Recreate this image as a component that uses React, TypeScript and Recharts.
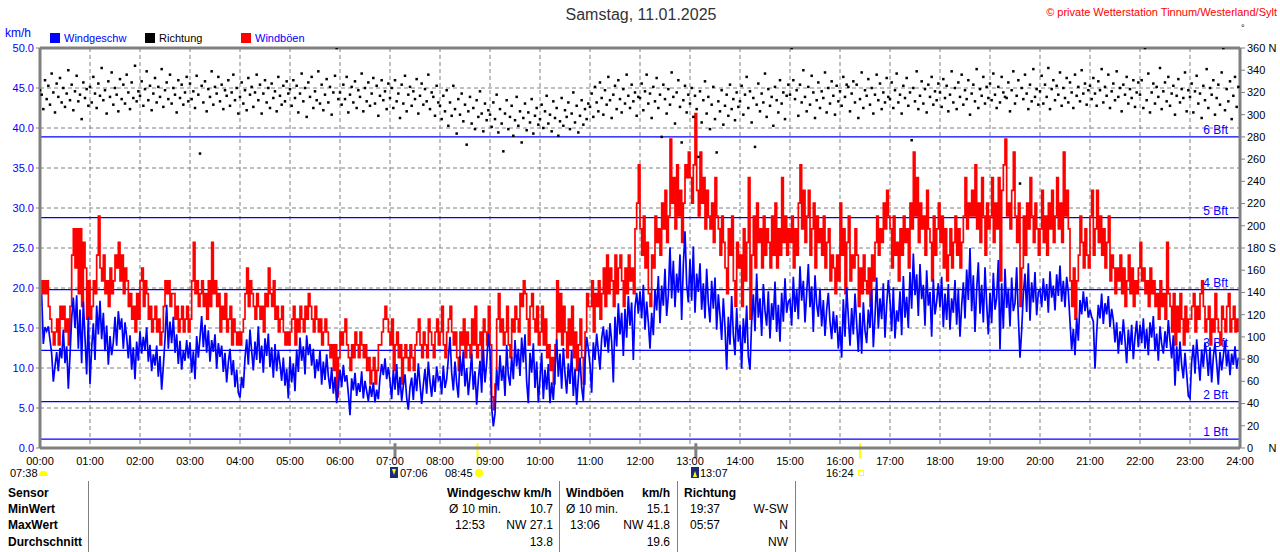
import React from 'react';
import { ComposedChart, Line, Scatter, XAxis, YAxis, CartesianGrid, ReferenceLine } from 'recharts';

// ---- sampling: one value every 2 minutes, 30 per hour ----
const STEP_MIN = 2;

// Wind speed (km/h), hour by hour
const speedKmh: number[] = [
  // 00
  17.5, 19.2, 13.0, 15.1, 14.6, 15.2, 13.5, 11.8, 8.3, 10.2, 12.0, 9.6, 12.5, 11.2, 14.8, 10.6, 12.7, 7.4, 11.6, 16.2, 18.8, 15.0, 19.1, 12.4, 17.3, 10.6, 18.3, 13.8, 9.2, 16.4,
  // 01
  8.0, 12.5, 15.6, 11.0, 17.8, 14.2, 18.4, 13.6, 16.9, 12.1, 15.3, 10.4, 14.0, 11.6, 13.2, 16.4, 12.8, 17.1, 14.8, 16.2, 12.4, 15.7, 13.9, 11.2, 14.1, 9.8, 12.6, 8.6, 13.3, 10.9,
  // 02
  14.6, 11.8, 13.9, 12.2, 15.1, 10.8, 12.9, 9.6, 11.7, 10.3, 12.8, 8.9, 11.5, 7.3, 10.2, 13.6, 17.9, 12.4, 15.8, 13.1, 16.4, 11.9, 14.2, 10.5, 13.4, 9.8, 12.1, 10.9, 13.5, 11.2,
  // 03
  13.2, 9.4, 12.1, 8.6, 14.0, 11.3, 13.8, 16.5, 12.6, 15.4, 11.9, 14.7, 10.8, 13.5, 12.0, 14.2, 9.9, 13.1, 11.4, 12.8, 9.5, 11.9, 8.2, 10.7, 12.4, 9.1, 11.0, 7.6, 9.8, 6.9,
  // 04
  6.3, 8.9, 7.5, 11.2, 13.6, 10.4, 14.8, 12.1, 9.7, 13.3, 11.0, 15.2, 10.6, 12.8, 9.4, 13.7, 11.5, 14.3, 10.1, 12.6, 8.8, 13.0, 9.6, 12.2, 10.5, 8.4, 11.3, 7.8, 9.9, 6.2,
  // 05
  11.4, 8.2, 10.6, 7.1, 12.3, 9.5, 13.8, 10.9, 12.7, 9.2, 14.1, 11.6, 13.0, 10.3, 12.4, 8.7, 11.1, 9.6, 12.2, 7.9, 10.8, 8.5, 11.7, 9.0, 7.4, 10.1, 6.8, 8.9, 5.6, 7.7,
  // 06
  9.8, 7.6, 10.4, 8.3, 9.1, 6.8, 4.1, 8.7, 7.2, 9.4, 6.5, 8.1, 7.0, 9.6, 6.2, 8.4, 7.1, 5.9, 7.8, 6.4, 8.2, 5.7, 7.3, 6.1, 8.8, 10.5, 9.1, 11.2, 8.6, 10.1,
  // 07
  8.4, 6.1, 9.7, 7.3, 10.5, 6.6, 8.9, 5.9, 7.8, 9.2, 6.3, 4.8, 7.6, 8.8, 6.0, 9.4, 7.1, 10.6, 8.0, 5.5, 7.9, 9.9, 6.8, 10.8, 8.3, 6.4, 9.1, 7.0, 10.2, 8.5,
  // 08
  9.0, 6.7, 10.3, 7.5, 8.6, 11.2, 13.9, 9.4, 7.2, 10.8, 8.1, 6.3, 11.5, 9.0, 12.1, 7.7, 10.0, 6.6, 8.9, 11.8, 7.3, 9.6, 5.4, 8.5, 10.9, 6.9, 12.3, 8.2, 10.6, 14.3,
  // 09
  12.0, 5.1, 2.7, 4.3, 9.8, 7.2, 11.6, 8.4, 10.3, 6.5, 12.9, 9.1, 7.8, 11.4, 8.6, 13.5, 10.2, 12.4, 9.0, 13.8, 10.7, 14.2, 8.3, 5.6, 11.9, 9.4, 13.1, 7.5, 10.8, 5.7,
  // 10
  8.6, 11.9, 6.1, 9.8, 7.3, 10.5, 5.6, 8.2, 6.0, 9.7, 13.6, 8.9, 11.8, 7.4, 12.5, 9.3, 6.8, 10.6, 8.0, 12.2, 6.5, 9.9, 5.4, 8.7, 11.3, 7.6, 5.9, 10.8, 13.9, 12.4,
  // 11
  10.4, 6.9, 13.2, 11.0, 14.3, 12.1, 9.8, 13.7, 15.2, 12.6, 14.8, 11.9, 15.6, 13.3, 8.2, 16.4, 12.7, 18.1, 14.2, 16.9, 11.5, 17.4, 13.8, 19.0, 15.3, 18.2, 11.0, 17.6, 19.4, 16.8,
  // 12
  19.6, 16.2, 20.4, 14.8, 18.3, 15.7, 12.4, 16.9, 14.1, 19.8, 17.2, 21.5, 15.6, 20.3, 17.8, 22.4, 16.5, 19.1, 25.1, 18.7, 23.4, 17.6, 21.8, 19.4, 24.2, 16.0, 22.9, 27.1, 20.5, 18.2,
  // 13
  23.6, 18.4, 25.2, 16.9, 21.8, 19.5, 23.1, 17.3, 20.6, 16.2, 22.4, 18.1, 15.7, 20.9, 17.4, 21.3, 14.8, 19.2, 16.6, 13.5, 18.7, 15.1, 9.8, 16.4, 12.9, 19.0, 14.2, 11.6, 17.5, 13.3,
  // 14
  15.4, 9.9, 16.2, 13.1, 17.8, 11.4, 9.8, 15.9, 19.2, 14.6, 21.8, 16.3, 18.7, 14.0, 20.5, 17.2, 15.3, 19.6, 13.7, 18.1, 16.0, 20.8, 14.5, 17.9, 13.3, 19.4, 15.8, 21.2, 16.9, 18.3,
  // 15
  18.6, 15.3, 21.4, 17.0, 19.8, 16.1, 22.7, 18.4, 20.9, 15.7, 19.3, 23.0, 17.6, 20.2, 14.5, 21.6, 18.0, 16.4, 19.9, 15.2, 18.5, 14.0, 17.3, 19.4, 15.8, 13.6, 17.1, 14.4, 16.6, 12.4,
  // 16
  15.2, 11.3, 18.6, 13.9, 20.1, 16.4, 12.8, 17.5, 14.2, 19.3, 15.6, 12.0, 16.9, 11.8, 18.2, 14.7, 13.1, 17.3, 15.0, 19.8, 12.6, 16.4, 21.3, 14.9, 18.7, 16.1, 20.6, 13.8, 17.9, 21.0,
  // 17
  18.4, 14.6, 20.1, 13.7, 17.2, 15.8, 19.6, 14.1, 21.5, 16.3, 18.9, 15.0, 22.0, 17.4, 24.3, 19.1, 21.7, 16.5, 23.0, 18.6, 20.4, 15.3, 22.2, 17.8, 19.5, 13.9, 21.1, 16.7, 18.3, 20.6,
  // 18
  17.6, 21.4, 15.1, 19.3, 16.0, 20.5, 14.8, 18.7, 16.9, 21.0, 15.4, 19.9, 13.9, 17.8, 20.7, 16.2, 22.3, 18.5, 25.0, 17.1, 21.6, 14.5, 19.8, 23.2, 16.8, 20.4, 15.7, 22.6, 18.0, 14.2,
  // 19
  19.4, 15.6, 21.9, 17.3, 18.8, 23.5, 12.3, 20.6, 14.9, 22.4, 17.5, 19.9, 15.2, 21.3, 17.1, 18.1, 22.6, 16.4, 11.3, 14.7, 19.3, 21.8, 17.0, 23.1, 15.9, 20.7, 18.2, 22.0, 16.6, 19.5,
  // 20
  19.8, 17.6, 21.2, 18.4, 20.5, 16.9, 22.1, 18.8, 20.3, 17.2, 21.7, 19.0, 22.8, 18.3, 20.9, 17.6, 21.4, 19.5, 15.8, 12.3, 14.9, 11.6, 16.2, 13.4, 18.5, 16.7, 19.6, 17.1, 18.9, 16.3,
  // 21
  17.3, 16.4, 15.8, 9.9, 14.4, 17.9, 16.2, 19.3, 15.5, 18.1, 16.7, 19.0, 15.1, 17.4, 16.0, 13.2, 15.7, 11.8, 14.6, 12.9, 16.1, 13.5, 10.6, 14.8, 12.2, 15.4, 11.1, 13.9, 15.9, 12.6,
  // 22
  15.4, 13.1, 16.2, 12.4, 14.9, 11.6, 15.7, 13.8, 16.5, 12.1, 14.3, 10.9, 15.2, 13.0, 11.8, 14.6, 12.5, 16.0, 13.4, 11.2, 14.1, 7.8, 12.7, 9.6, 13.3, 10.4, 8.7, 11.9, 9.3, 6.5,
  // 23
  6.2, 10.8, 12.9, 9.3, 13.6, 11.0, 8.4, 12.3, 10.1, 13.2, 11.7, 9.0, 12.6, 8.2, 11.4, 13.1, 10.6, 7.9, 12.0, 9.7, 11.5, 13.4, 10.2, 12.2, 9.1, 11.8, 10.4, 12.7, 9.9, 11.3,
];

// Gusts (km/h)
const gustKmh: number[] = [
  // 00
  20.9, 19.3, 20.9, 19.3, 20.9, 17.7, 16.1, 14.5, 12.9, 14.5, 16.1, 12.9, 17.7, 16.1, 17.7, 14.5, 16.1, 12.9, 17.7, 24.1, 27.4, 22.5, 27.4, 19.3, 27.4, 17.7, 25.7, 22.5, 16.1, 20.9,
  // 01
  16.1, 17.7, 20.9, 19.3, 24.1, 29.0, 22.5, 20.9, 24.1, 19.3, 20.9, 17.7, 22.5, 19.3, 20.9, 24.1, 22.5, 25.7, 20.9, 24.1, 19.3, 22.5, 20.9, 17.7, 19.3, 16.1, 17.7, 14.5, 19.3, 16.1,
  // 02
  20.9, 22.5, 17.7, 20.9, 19.3, 16.1, 17.7, 14.5, 16.1, 17.7, 14.5, 16.1, 12.9, 14.5, 17.7, 20.9, 19.3, 20.9, 17.7, 19.3, 19.3, 16.1, 17.7, 14.5, 16.1, 17.7, 14.5, 16.1, 17.7, 14.5,
  // 03
  16.1, 20.9, 25.7, 19.3, 20.9, 17.7, 19.3, 20.9, 17.7, 19.3, 16.1, 20.9, 17.7, 25.7, 19.3, 20.9, 17.7, 19.3, 14.5, 17.7, 16.1, 19.3, 14.5, 16.1, 17.7, 12.9, 16.1, 14.5, 12.9, 14.5,
  // 04
  12.9, 14.5, 16.1, 19.3, 22.5, 17.7, 20.9, 19.3, 17.7, 16.1, 19.3, 17.7, 16.1, 17.7, 14.5, 19.3, 17.7, 22.5, 19.3, 17.7, 20.9, 16.1, 17.7, 14.5, 16.1, 17.7, 14.5, 12.9, 14.5, 12.9,
  // 05
  14.5, 16.1, 17.7, 12.9, 16.1, 14.5, 17.7, 16.1, 14.5, 17.7, 16.1, 19.3, 17.7, 16.1, 14.5, 17.7, 16.1, 14.5, 16.1, 12.9, 14.5, 16.1, 14.5, 12.9, 11.3, 12.9, 9.7, 12.9, 6.4, 11.3,
  // 06
  14.5, 12.9, 14.5, 16.1, 12.9, 11.3, 9.7, 12.9, 11.3, 14.5, 12.9, 11.3, 14.5, 12.9, 11.3, 12.9, 9.7, 11.3, 8.0, 9.7, 11.3, 8.0, 9.7, 12.9, 12.9, 14.5, 16.1, 17.7, 16.1, 14.5,
  // 07
  12.9, 16.1, 9.7, 12.9, 14.5, 11.3, 12.9, 8.0, 11.3, 12.9, 11.3, 9.7, 12.9, 11.3, 9.7, 12.9, 14.5, 16.1, 12.9, 11.3, 14.5, 12.9, 11.3, 16.1, 14.5, 12.9, 11.3, 14.5, 16.1, 12.9,
  // 08
  14.5, 17.7, 12.9, 11.3, 14.5, 16.1, 17.7, 14.5, 12.9, 14.5, 11.3, 9.7, 14.5, 12.9, 16.1, 11.3, 14.5, 12.9, 11.3, 16.1, 12.9, 17.7, 11.3, 12.9, 14.5, 9.7, 16.1, 14.5, 12.9, 17.7,
  // 09
  12.9, 6.4, 4.8, 8.0, 16.1, 19.3, 14.5, 16.1, 12.9, 14.5, 17.7, 12.9, 11.3, 16.1, 14.5, 17.7, 16.1, 14.5, 19.3, 17.7, 20.9, 19.3, 16.1, 12.9, 17.7, 19.3, 16.1, 14.5, 17.7, 12.9,
  // 10
  14.5, 17.7, 12.9, 16.1, 11.3, 12.9, 9.7, 11.3, 8.0, 12.9, 20.9, 14.5, 19.3, 12.9, 17.7, 14.5, 11.3, 16.1, 12.9, 17.7, 11.3, 14.5, 9.7, 12.9, 16.1, 11.3, 8.0, 14.5, 19.3, 17.7,
  // 11
  17.7, 20.9, 14.5, 19.3, 17.7, 20.9, 16.1, 19.3, 22.5, 17.7, 24.1, 19.3, 22.5, 20.9, 17.7, 24.1, 19.3, 22.5, 24.1, 20.9, 17.7, 22.5, 19.3, 24.1, 20.9, 22.5, 19.3, 27.4, 30.6, 35.4,
  // 12
  27.4, 24.1, 29.0, 22.5, 25.7, 19.3, 17.7, 24.1, 22.5, 29.0, 25.7, 27.4, 24.1, 30.6, 27.4, 32.2, 25.7, 29.0, 38.6, 30.6, 33.8, 27.4, 35.4, 29.0, 32.2, 25.7, 30.6, 35.4, 33.8, 37.0,
  // 13
  33.8, 30.6, 35.4, 41.8, 32.2, 29.0, 37.0, 30.6, 33.8, 27.4, 32.2, 29.0, 27.4, 30.6, 25.7, 33.8, 29.0, 27.4, 24.1, 29.0, 25.7, 22.5, 19.3, 27.4, 24.1, 29.0, 20.9, 17.7, 25.7, 22.5,
  // 14
  24.1, 17.7, 27.4, 20.9, 25.7, 33.8, 16.1, 24.1, 29.0, 22.5, 30.6, 25.7, 27.4, 22.5, 29.0, 24.1, 27.4, 25.7, 22.5, 29.0, 24.1, 30.6, 22.5, 27.4, 24.1, 33.8, 25.7, 29.0, 24.1, 27.4,
  // 15
  25.7, 29.0, 22.5, 27.4, 24.1, 30.6, 35.4, 27.4, 32.2, 25.7, 29.0, 32.2, 24.1, 27.4, 30.6, 22.5, 29.0, 25.7, 27.4, 24.1, 29.0, 22.5, 25.7, 27.4, 20.9, 24.1, 22.5, 19.3, 24.1, 20.9,
  // 16
  30.6, 24.1, 27.4, 19.3, 25.7, 29.0, 20.9, 24.1, 22.5, 27.4, 24.1, 17.7, 22.5, 19.3, 24.1, 20.9, 19.3, 22.5, 17.7, 24.1, 20.9, 25.7, 29.0, 24.1, 27.4, 25.7, 30.6, 27.4, 32.2, 29.0,
  // 17
  27.4, 22.5, 29.0, 24.1, 25.7, 20.9, 27.4, 24.1, 29.0, 25.7, 27.4, 22.5, 30.6, 27.4, 37.0, 29.0, 33.8, 25.7, 30.6, 27.4, 29.0, 24.1, 32.2, 27.4, 25.7, 20.9, 29.0, 24.1, 27.4, 30.6,
  // 18
  25.7, 29.0, 22.5, 27.4, 20.9, 24.1, 27.4, 22.5, 25.7, 29.0, 24.1, 27.4, 22.5, 25.7, 29.0, 33.8, 27.4, 30.6, 29.0, 32.2, 29.0, 35.4, 27.4, 30.6, 25.7, 33.8, 29.0, 24.1, 30.6, 27.4,
  // 19
  29.0, 33.8, 25.7, 30.6, 27.4, 33.8, 20.9, 32.2, 35.4, 38.6, 29.0, 30.6, 27.4, 32.2, 37.0, 29.0, 25.7, 30.6, 17.7, 22.5, 29.0, 24.1, 30.6, 27.4, 33.8, 29.0, 25.7, 30.6, 27.4, 24.1,
  // 20
  27.4, 32.2, 25.7, 29.0, 24.1, 30.6, 27.4, 32.2, 25.7, 29.0, 33.8, 27.4, 30.6, 25.7, 37.0, 29.0, 32.2, 27.4, 20.9, 17.7, 22.5, 16.1, 20.9, 24.1, 29.0, 25.7, 22.5, 27.4, 24.1, 22.5,
  // 21
  29.0, 32.2, 24.1, 27.4, 32.2, 25.7, 29.0, 24.1, 27.4, 22.5, 25.7, 29.0, 20.9, 24.1, 22.5, 19.3, 22.5, 20.9, 24.1, 19.3, 22.5, 17.7, 20.9, 24.1, 19.3, 22.5, 17.7, 20.9, 19.3, 22.5,
  // 22
  25.7, 20.9, 22.5, 19.3, 20.9, 17.7, 22.5, 19.3, 20.9, 17.7, 19.3, 16.1, 20.9, 17.7, 19.3, 16.1, 25.7, 19.3, 17.7, 14.5, 19.3, 12.9, 17.7, 14.5, 19.3, 16.1, 12.9, 17.7, 14.5, 16.1,
  // 23
  16.1, 17.7, 19.3, 14.5, 17.7, 16.1, 19.3, 20.9, 17.7, 14.5, 16.1, 17.7, 12.9, 16.1, 14.5, 19.3, 16.1, 14.5, 12.9, 17.7, 16.1, 14.5, 17.7, 19.3, 14.5, 16.1, 17.7, 14.5, 16.1, 14.5,
];

// Wind direction (degrees)
const directionDeg: number[] = [
  // 00
  322, 318, 305, 331, 314, 326, 309, 337, 320, 302, 328, 316, 333, 311, 324, 307, 319, 340, 313, 327, 304, 321, 335, 312, 318, 296, 329, 315, 323, 308,
  // 01
  325, 311, 334, 319, 306, 328, 317, 342, 313, 322, 301, 330, 316, 338, 309, 324, 318, 303, 332, 314, 327, 310, 336, 320, 305, 329, 315, 344, 312, 321,
  // 02
  317, 330, 308, 323, 339, 313, 326, 304, 319, 333, 311, 325, 316, 341, 307, 322, 329, 314, 336, 310, 324, 318, 302, 331, 315, 327, 309, 320, 334, 312,
  // 03
  328, 314, 321, 306, 335, 318, 265, 326, 311, 330, 303, 323, 316, 339, 309, 325, 319, 334, 312, 327, 305, 322, 317, 331, 308, 320, 336, 313, 324, 301,
  // 04
  316, 329, 310, 322, 304, 333, 318, 325, 307, 320, 336, 313, 327, 301, 319, 331, 311, 324, 306, 328, 315, 321, 303, 334, 317, 309, 326, 312, 330, 319,
  // 05
  323, 308, 331, 315, 326, 302, 319, 337, 312, 324, 298, 329, 316, 334, 306, 321, 313, 339, 310, 327, 304, 318, 332, 311, 325, 300, 320, 335, 360, 314,
  // 06
  320, 309, 327, 314, 334, 302, 318, 325, 311, 330, 306, 322, 316, 337, 303, 324, 312, 329, 308, 319, 333, 310, 326, 299, 317, 331, 313, 321, 305, 328,
  // 07
  315, 324, 306, 331, 312, 319, 297, 327, 310, 335, 303, 318, 325, 308, 321, 314, 332, 301, 317, 328, 309, 323, 312, 336, 305, 320, 316, 299, 326, 311,
  // 08
  308, 296, 317, 303, 322, 290, 311, 299, 326, 305, 283, 314, 300, 319, 294, 309, 273, 303, 316, 292, 306, 287, 313, 298, 321, 301, 285, 310, 295, 304,
  // 09
  300, 289, 311, 296, 318, 284, 305, 292, 267, 301, 313, 287, 298, 308, 281, 295, 316, 290, 303, 275, 297, 310, 286, 302, 293, 314, 283, 299, 306, 291,
  // 10
  296, 309, 288, 303, 317, 292, 300, 285, 312, 297, 306, 281, 294, 315, 290, 304, 298, 311, 287, 301, 320, 293, 308, 284, 299, 313, 291, 305, 296, 310,
  // 11
  307, 319, 298, 325, 311, 303, 329, 315, 300, 322, 309, 334, 313, 297, 318, 326, 305, 331, 314, 302, 323, 310, 336, 317, 306, 327, 312, 320, 299, 316,
  // 12
  315, 328, 304, 321, 336, 310, 319, 297, 325, 312, 333, 306, 318, 280, 327, 314, 301, 323, 309, 338, 316, 292, 320, 331, 307, 275, 313, 326, 302, 318,
  // 13
  310, 324, 298, 317, 305, 262, 321, 293, 313, 330, 301, 316, 287, 309, 325, 296, 266, 312, 303, 322, 291, 308, 318, 299, 327, 305, 314, 295, 320, 307,
  // 14
  312, 326, 300, 318, 334, 306, 321, 293, 315, 271, 309, 328, 303, 319, 311, 337, 298, 323, 308, 316, 290, 325, 313, 302, 331, 310, 320, 296, 317, 327,
  // 15
  318, 360, 331, 314, 322, 299, 327, 311, 340, 316, 303, 325, 309, 335, 320, 297, 313, 329, 306, 321, 315, 338, 302, 324, 310, 330, 317, 300, 326, 312,
  // 16
  321, 308, 334, 316, 327, 325, 303, 319, 330, 311, 327, 297, 314, 338, 306, 322, 317, 332, 309, 324, 301, 318, 336, 313, 328, 305, 320, 311, 333, 316,
  // 17
  314, 329, 306, 322, 337, 311, 318, 301, 326, 315, 333, 308, 320, 277, 324, 312, 339, 305, 317, 330, 310, 323, 302, 327, 316, 334, 309, 321, 313, 328,
  // 18
  320, 307, 332, 315, 326, 303, 318, 339, 311, 324, 305, 329, 316, 336, 309, 322, 314, 331, 300, 319, 327, 312, 341, 306, 323, 317, 334, 310, 325, 315,
  // 19
  328, 313, 337, 318, 306, 325, 311, 334, 320, 316, 315, 329, 303, 322, 339, 310, 317, 331, 238, 324, 314, 336, 319, 305, 327, 312, 341, 316, 323, 309,
  // 20
  321, 335, 310, 327, 316, 342, 305, 323, 331, 313, 326, 318, 338, 308, 324, 315, 333, 311, 329, 320, 306, 336, 317, 325, 312, 340, 319, 328, 309, 322,
  // 21
  326, 314, 333, 319, 308, 330, 322, 341, 311, 325, 317, 336, 306, 321, 328, 313, 339, 316, 324, 303, 327, 318, 334, 310, 323, 315, 331, 307, 320, 329,
  // 22
  318, 331, 306, 360, 313, 337, 302, 320, 328, 310, 325, 316, 342, 305, 321, 329, 312, 334, 308, 319, 326, 300, 317, 332, 311, 323, 315, 338, 303, 322,
  // 23
  316, 328, 302, 321, 335, 310, 319, 297, 326, 313, 341, 306, 324, 318, 331, 300, 315, 327, 309, 338, 360, 304, 323, 312, 330, 296, 317, 334, 307, 325,
];

// Axis ticks and labels
const hourTicks: number[] = [0, 60, 120, 180, 240, 300, 360, 420, 480, 540, 600, 660, 720, 780, 840, 900, 960, 1020, 1080, 1140, 1200, 1260, 1320, 1380, 1440];
const hourLabels: string[] = ['00:00', '01:00', '02:00', '03:00', '04:00', '05:00', '06:00', '07:00', '08:00', '09:00', '10:00', '11:00', '12:00', '13:00', '14:00', '15:00', '16:00', '17:00', '18:00', '19:00', '20:00', '21:00', '22:00', '23:00', '24:00'];
const speedTicks: number[] = [0, 5, 10, 15, 20, 25, 30, 35, 40, 45, 50];
const speedTickLabels: string[] = ['0.0', '5.0', '10.0', '15.0', '20.0', '25.0', '30.0', '35.0', '40.0', '45.0', '50.0'];
const dirTicks: number[] = [0, 20, 40, 60, 80, 100, 120, 140, 160, 180, 200, 220, 240, 260, 280, 300, 320, 340, 360];
const dirTickLabels: string[] = ['0\u00a0\u00a0\u00a0\u00a0\u00a0N', '20', '40', '60', '80', '100', '120', '140', '160', '180 S', '200', '220', '240', '260', '280', '300', '320', '340', '360 N'];

// Beaufort thresholds (km/h)
const bftNames: string[] = ['1 Bft', '2 Bft', '3 Bft', '4 Bft', '5 Bft', '6 Bft'];
const bftKmh: number[] = [1.1, 5.8, 12.2, 19.8, 28.8, 38.9];

// Astronomical markers on the time axis (minutes after midnight)
const eventMinutes: number[] = [426, 525, 787, 984];
const eventColors: string[] = ['#808080', '#ffff00', '#808080', '#ffff00'];

// Statistics table
const tableRowLabels: string[] = ['Sensor', 'MinWert', 'MaxWert', 'Durchschnitt'];
const speedStats: string[][] = [['Ø 10 min.', '10.7'], ['12:53', 'NW 27.1'], ['', '13.8']];
const gustStats: string[][] = [['Ø 10 min.', '15.1'], ['13:06', 'NW 41.8'], ['', '19.6']];
const dirStats: string[][] = [['19:37', 'W-SW'], ['05:57', 'N'], ['', 'NW']];

const speedData = speedKmh.map((v, i) => ({ t: i * STEP_MIN, v }));
const gustData = gustKmh.map((v, i) => ({ t: i * STEP_MIN, v }));
const dirData = directionDeg.map((d, i) => ({ t: i * STEP_MIN, d }));

const FONT = '"Liberation Sans", Arial, sans-serif';

const BftLabel = (props: any) => {
  const vb = props.viewBox || {};
  return (
    <text x={vb.x + vb.width - 12} y={vb.y - 3} textAnchor="end" fill="#0000ff" fontSize={12} fontFamily={FONT}>
      {props.text}
    </text>
  );
};

const DirDot = (p: any) => {
  if (p.cx == null || p.cy == null) return null;
  return <rect x={p.cx - 1.25} y={p.cy - 1.25} width={2.5} height={2.5} fill="#000000" />;
};

const T = ({ x, y, children, right, bold, color, size }: any) => (
  <div
    style={{
      position: 'absolute',
      top: y,
      ...(right ? { right: 1280 - x } : { left: x }),
      fontSize: size || 12,
      fontWeight: bold ? 'bold' : 'normal',
      color: color || '#000',
      whiteSpace: 'nowrap',
      lineHeight: '14px',
    }}
  >
    {children}
  </div>
);

export default function App() {
  const rowTops = [486, 502, 518, 535];
  return (
    <div style={{ position: 'absolute', left: 0, top: 0, width: 1280, height: 552, background: '#fff', overflow: 'hidden', fontFamily: FONT }}>
      <div style={{ position: 'absolute', left: 0, top: 0 }}>
        <ComposedChart width={1280} height={552} margin={{ top: 48, right: 0, bottom: 74, left: 0 }}>
          <CartesianGrid yAxisId="left" stroke="#808080" strokeDasharray="4 3" />
          <XAxis
            type="number"
            dataKey="t"
            domain={[0, 1440]}
            ticks={hourTicks}
            interval={0}
            tickFormatter={(m: number) => hourLabels[Math.round(m / 60)]}
            height={30}
            axisLine={{ stroke: '#808080', strokeWidth: 3 }}
            tickLine={false}
            tickSize={5}
            tickMargin={4}
            tick={{ fill: '#000', fontSize: 11 }}
            allowDataOverflow
          />
          <YAxis
            yAxisId="left"
            orientation="left"
            width={40}
            domain={[0, 50]}
            ticks={speedTicks}
            interval={0}
            tickFormatter={(v: number) => speedTickLabels[speedTicks.indexOf(v)]}
            axisLine={{ stroke: '#808080', strokeWidth: 3 }}
            tickLine={{ stroke: '#808080' }}
            tickSize={4}
            tickMargin={2}
            tick={{ fill: '#0000ff', fontSize: 11 }}
            allowDataOverflow
          />
          <YAxis
            yAxisId="right"
            orientation="right"
            width={40}
            domain={[0, 360]}
            ticks={dirTicks}
            interval={0}
            tickFormatter={(v: number) => dirTickLabels[dirTicks.indexOf(v)]}
            axisLine={{ stroke: '#808080', strokeWidth: 3 }}
            tickLine={{ stroke: '#808080' }}
            tickSize={5}
            tickMargin={2}
            tick={{ fill: '#000', fontSize: 11 }}
            allowDataOverflow
          />
          <ReferenceLine yAxisId="left" y={50} stroke="#808080" strokeWidth={3} />
          {bftKmh.map((k, i) => (
            <ReferenceLine key={bftNames[i]} yAxisId="left" y={k} stroke="#0000ff" strokeWidth={1.3} label={<BftLabel text={bftNames[i]} />} />
          ))}
          {eventMinutes.map((m, i) => (
            <ReferenceLine
              key={'ev' + i}
              yAxisId="left"
              segment={[{ x: m, y: -1.3 }, { x: m, y: 0.6 }]}
              stroke={eventColors[i]}
              strokeWidth={eventColors[i] === '#808080' ? 3 : 2}
              ifOverflow="visible"
            />
          ))}
          <Line yAxisId="left" data={gustData} dataKey="v" type="stepAfter" stroke="#ff0000" strokeWidth={1.7} dot={false} activeDot={false} isAnimationActive={false} />
          <Line yAxisId="left" data={speedData} dataKey="v" type="linear" stroke="#0000ff" strokeWidth={1.7} dot={false} activeDot={false} isAnimationActive={false} />
          <Scatter yAxisId="right" data={dirData} dataKey="d" shape={<DirDot />} isAnimationActive={false} />
        </ComposedChart>
      </div>

      {/* title & header */}
      <div style={{ position: 'absolute', left: 441, width: 400, top: 5, textAlign: 'center', fontSize: 16, color: '#333', lineHeight: '20px' }}>
        Samstag, 11.01.2025
      </div>
      <T x={1277} y={5} right color="#ff0000" size={11}>© private Wetterstation Tinnum/Westerland/Sylt</T>
      <T x={1241} y={21} size={9}>°</T>
      <T x={5} y={26} color="#0000ff" size={12}>km/h</T>

      {/* legend */}
      <div style={{ position: 'absolute', left: 50, top: 33, width: 10, height: 10, background: '#0000ff' }} />
      <T x={64} y={31} color="#0000ff" size={11}>Windgeschw</T>
      <div style={{ position: 'absolute', left: 145, top: 33, width: 10, height: 10, background: '#000' }} />
      <T x={159} y={31} size={11}>Richtung</T>
      <div style={{ position: 'absolute', left: 241, top: 33, width: 10, height: 10, background: '#ff0000' }} />
      <T x={255} y={31} color="#0000ff" size={11}>Windböen</T>

      {/* markers below time axis */}
      <T x={10} y={466} size={11}>07:38</T>
      <div style={{ position: 'absolute', left: 39, top: 471, width: 9, height: 5, background: '#ffff00', borderRadius: '5px 5px 0 0' }} />
      <div style={{ position: 'absolute', left: 390, top: 467, width: 8, height: 11, background: '#1c2a7a' }} />
      <div style={{ position: 'absolute', left: 392, top: 469, width: 0, height: 0, borderLeft: '2px solid transparent', borderRight: '2px solid transparent', borderTop: '6px solid #ffff00' }} />
      <T x={400} y={466} size={11}>07:06</T>
      <T x={445} y={466} size={11}>08:45</T>
      <div style={{ position: 'absolute', left: 475, top: 469, width: 8, height: 8, background: '#ffff00', borderRadius: 4 }} />
      <div style={{ position: 'absolute', left: 691, top: 467, width: 8, height: 11, background: '#1c2a7a' }} />
      <div style={{ position: 'absolute', left: 693, top: 471, width: 0, height: 0, borderLeft: '2px solid transparent', borderRight: '2px solid transparent', borderBottom: '6px solid #ffff00' }} />
      <T x={700} y={466} size={11}>13:07</T>
      <T x={826} y={466} size={11}>16:24</T>
      <div style={{ position: 'absolute', left: 858, top: 470, width: 4, height: 4, border: '1px solid #ffff00' }} />

      {/* statistics table */}
      {tableRowLabels.map((l, i) => (
        <T key={l} x={8} y={rowTops[i]} bold>{l}</T>
      ))}
      {[88, 559, 677, 795].map((x) => (
        <div key={x} style={{ position: 'absolute', left: x, top: 481, width: 1, height: 71, background: '#808080' }} />
      ))}
      <T x={447} y={rowTops[0]} bold>Windgeschw km/h</T>
      <T x={566} y={rowTops[0]} bold>Windböen</T>
      <T x={670} y={rowTops[0]} right bold>km/h</T>
      <T x={684} y={rowTops[0]} bold>Richtung</T>
      {speedStats.map((r, i) => (
        <React.Fragment key={'s' + i}>
          <T x={i === 0 ? 449 : 455} y={rowTops[i + 1]}>{r[0]}</T>
          <T x={553} y={rowTops[i + 1]} right>{r[1]}</T>
        </React.Fragment>
      ))}
      {gustStats.map((r, i) => (
        <React.Fragment key={'g' + i}>
          <T x={i === 0 ? 566 : 570} y={rowTops[i + 1]}>{r[0]}</T>
          <T x={670} y={rowTops[i + 1]} right>{r[1]}</T>
        </React.Fragment>
      ))}
      {dirStats.map((r, i) => (
        <React.Fragment key={'d' + i}>
          <T x={690} y={rowTops[i + 1]}>{r[0]}</T>
          <T x={788} y={rowTops[i + 1]} right>{r[1]}</T>
        </React.Fragment>
      ))}
    </div>
  );
}
